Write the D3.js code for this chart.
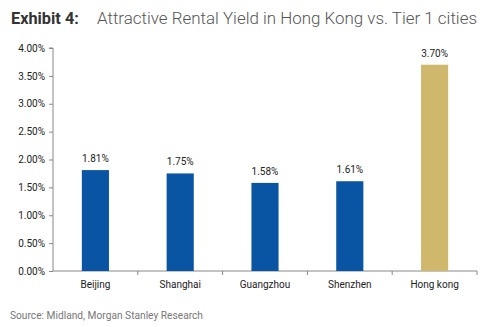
<!DOCTYPE html>
<html><head><meta charset="utf-8">
<script src="https://cdn.jsdelivr.net/npm/d3@7"></script>
<style>body{margin:0;background:#fff;}svg{display:block;}text{font-family:Roboto,"Noto Sans",sans-serif;}</style>
</head><body>
<svg id="c" width="488" height="327"></svg>
<script>
const categories = ["Beijing","Shanghai","Guangzhou","Shenzhen","Hong kong"];
const values = [1.81, 1.75, 1.58, 1.61, 3.70];
const yTicks = [0,0.5,1,1.5,2,2.5,3,3.5,4];
const colors = ["#0a55a3","#0a55a3","#0a55a3","#0a55a3","#cfb86c"];

const svg = d3.select("#c");
const m = {l:53, r:477, t:48, b:271};
const x = d3.scaleBand().domain(categories).range([m.l, m.r]).paddingInner(0.68).paddingOuter(0.34);
const y = d3.scaleLinear().domain([0,4]).range([m.b, m.t]);

svg.append("text").attr("x",11).attr("y",24).attr("font-size",16.3).attr("font-weight",700).attr("fill","#333").text("Exhibit 4:");
svg.append("text").attr("x",97).attr("y",24).attr("font-size",16.5).attr("font-weight",300).attr("fill","#555")
  .attr("textLength",380).attr("lengthAdjust","spacingAndGlyphs")
  .text("Attractive Rental Yield in Hong Kong vs. Tier 1 cities");

const ya = svg.append("g").attr("transform",`translate(${m.l},0)`)
  .call(d3.axisLeft(y).tickValues(yTicks).tickFormat(d=>d.toFixed(2)+"%").tickSize(4).tickPadding(4));
ya.select(".domain").attr("stroke","#888").attr("d",`M-4,${m.t}H0V${m.b}`);
ya.selectAll(".tick line").attr("stroke","#888");
ya.selectAll(".tick text").attr("font-size",10).attr("fill","#222").attr("font-family","Roboto,sans-serif");

const xa = svg.append("g").attr("transform",`translate(0,${m.b})`)
  .call(d3.axisBottom(x).tickSize(0).tickPadding(10));
xa.select(".domain").attr("stroke","#888").attr("d",`M${m.l},0H${m.r}V4`);
xa.selectAll(".tick text").attr("font-size",10).attr("fill","#222").attr("font-family","Roboto,sans-serif");
const seps = categories.slice(1).map(c => x(c) - (x.step()-x.bandwidth())/2);
svg.append("g").selectAll("line").data(seps).join("line")
  .attr("x1",d=>d).attr("x2",d=>d).attr("y1",m.b).attr("y2",m.b+4).attr("stroke","#888");

svg.append("g").selectAll("rect").data(categories).join("rect")
  .attr("x",d=>x(d)).attr("width",x.bandwidth())
  .attr("y",(d,i)=>y(values[i])).attr("height",(d,i)=>y(0)-y(values[i]))
  .attr("fill",(d,i)=>colors[i]);

svg.append("g").selectAll("text").data(categories).join("text")
  .attr("x",d=>x(d)+x.bandwidth()/2).attr("y",(d,i)=>y(values[i])-8)
  .attr("text-anchor","middle").attr("font-size",10).attr("fill","#222")
  .text((d,i)=>values[i].toFixed(2)+"%");

svg.append("text").attr("x",10).attr("y",319).attr("font-size",10.2).attr("fill","#777").text("Source: Midland, Morgan Stanley Research");
</script>
</body></html>
